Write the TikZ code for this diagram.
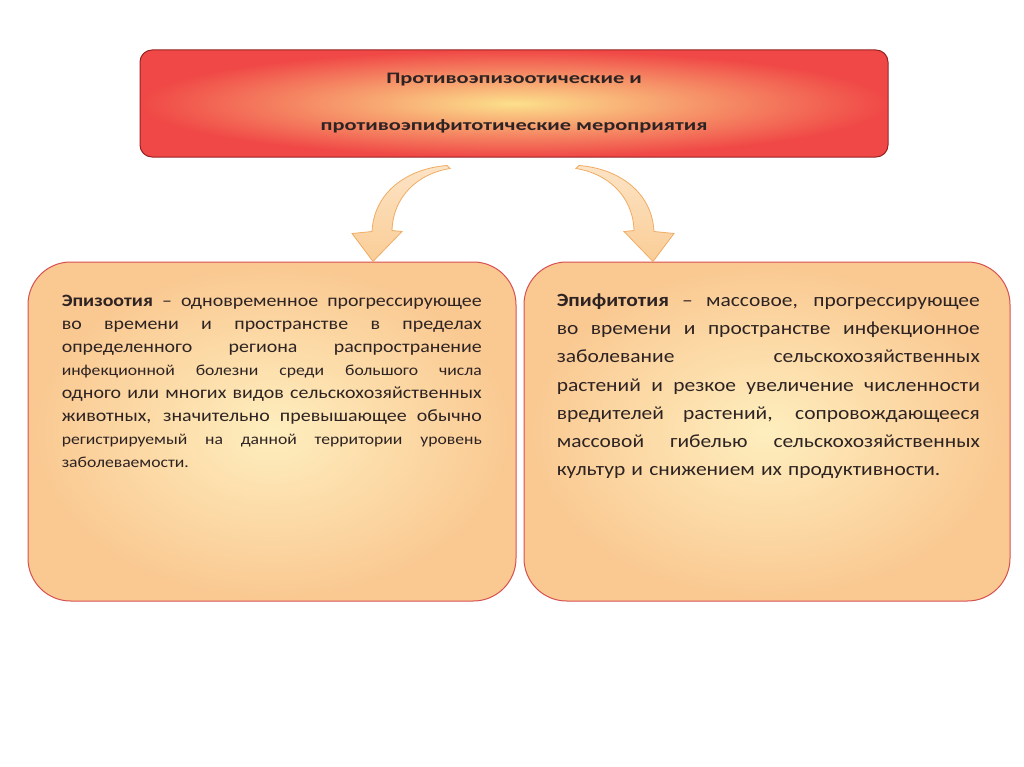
\documentclass[tikz,border=0pt]{standalone}
\usepackage{fontspec}
\usetikzlibrary{positioning}
\setmainfont{Carlito}
\newfontfamily\headfont[FakeStretch=1.4]{Carlito}
\newfontfamily\bodyfont[FakeStretch=1.15]{Carlito}

\definecolor{headin}{RGB}{252,224,140}
\definecolor{headout}{RGB}{240,72,70}
\definecolor{headedge}{RGB}{150,35,35}
\definecolor{defin}{RGB}{254,238,190}
\definecolor{defout}{RGB}{250,200,145}
\definecolor{defedge}{RGB}{215,80,80}
\definecolor{arrowedge}{RGB}{240,172,100}
\definecolor{arrowfill}{RGB}{250,205,150}
\definecolor{textgray}{RGB}{45,35,35}

% one justified line of a definition
\newcommand{\fullline}[1]{\makebox[\hsize][s]{\spaceskip=0pt\relax #1}}

\tikzset{
  headbox/.style={draw=headedge, line width=0.75pt, rounded corners=9pt,
    shading=radial, inner color=headin, outer color=headout,
    minimum width=561pt, minimum height=80.25pt, align=center, text=textgray,
    font=\headfont\bfseries\fontsize{12}{35.25}\selectfont},
  defbox/.style={draw=defedge, line width=0.75pt, rounded corners=32pt,
    shading=radial, inner color=defin, outer color=defout,
    minimum height=254.25pt},
  deftext/.style={inner sep=0pt, align=left, text=textgray},
  bentarrow/.pic={
    \draw[draw=arrowedge, line width=0.6pt, top color=arrowfill!55!white, bottom color=arrowfill]
      (0,0) -- (-21,-28) -- (-1,-30)
      .. controls (1,-70) and (35,-93) .. (74,-96)
      -- (77,-93)
      .. controls (45,-88) and (20,-65) .. (19,-31)
      -- (29,-30) -- cycle;
  }
}

\begin{document}
\begin{tikzpicture}[x=0.75pt,y=-0.75pt]
  % Slide frame, in pixels
  \useasboundingbox (0,0) rectangle (1024,767);

  % Heading
  \node[headbox] (measures) at (514,103.5)
    {Противоэпизоотические и\\противоэпифитотические мероприятия};

  % Definition boxes
  \node[defbox, minimum width=366pt] (epizootic) at (272,431.5) {};
  \node[defbox, minimum width=364.5pt] (epiphytotic) at (767,431.5) {};

  % Epizootic text
  \node[deftext, text width=315pt, font=\bodyfont\fontsize{13}{17.25}\selectfont,
        below right=24.75pt and 25.5pt of epizootic.north west] (epizootictext) {%
    \fullline{\textbf{Эпизоотия} – одновременное прогрессирующее}\\
    \fullline{во времени и пространстве в пределах}\\
    \fullline{определенного региона распространение}\\
    \fullline{\fontsize{11.5}{17.25}\selectfont инфекционной болезни среди большого числа}\\
    \fullline{одного или многих видов сельскохозяйственных}\\
    \fullline{животных, значительно превышающее обычно}\\
    \fullline{\fontsize{11.5}{17.25}\selectfont регистрируемый на данной территории уровень}\\
    {\fontsize{11.5}{17.25}\selectfont заболеваемости.}};

  % Epiphytotic text
  \node[deftext, text width=317.25pt, font=\bodyfont\fontsize{14}{21.15}\selectfont,
        below right=24pt and 24.75pt of epiphytotic.north west] (epiphytotictext) {%
    \fullline{\textbf{Эпифитотия} – массовое, прогрессирующее}\\
    \fullline{во времени и пространстве инфекционное}\\
    \fullline{заболевание сельскохозяйственных}\\
    \fullline{растений и резкое увеличение численности}\\
    \fullline{вредителей растений, сопровождающееся}\\
    \fullline{массовой гибелью сельскохозяйственных}\\
    культур и снижением их продуктивности.};

  % Bent arrows from heading to boxes
  \coordinate[right=75.75pt of epizootic.north] (tipL);
  \coordinate[left=85.5pt of epiphytotic.north] (tipR);
  \pic at (tipL) {bentarrow};
  \pic[xscale=-1] at (tipR) {bentarrow};
\end{tikzpicture}
\end{document}
